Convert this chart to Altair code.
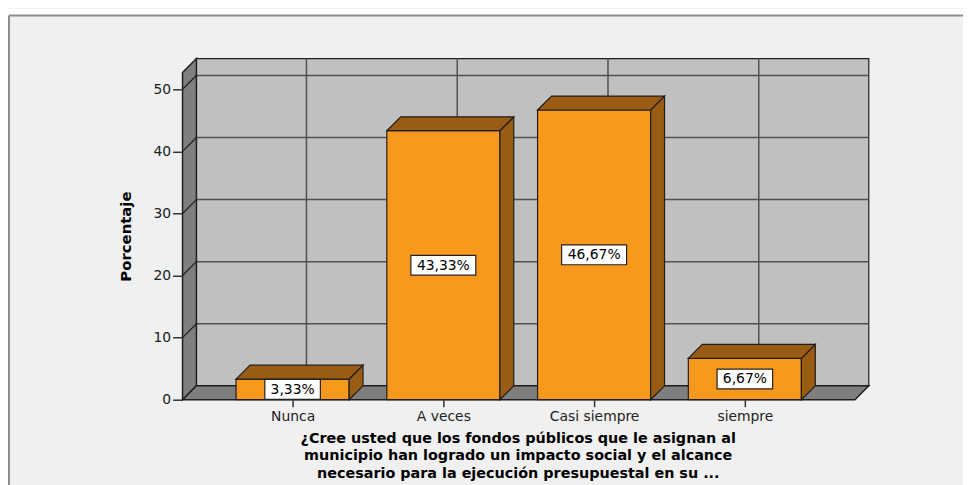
import altair as alt
import pandas as pd

# ---------------- data ----------------
categories = ["Nunca", "A veces", "Casi siempre", "siempre"]
percentages = [3.33, 43.33, 46.67, 6.67]
bar_labels = ["3,33%", "43,33%", "46,67%", "6,67%"]
y_ticks = [0, 10, 20, 30, 40, 50]
y_title = "Porcentaje"
x_title = [
    "¿Cree usted que los fondos públicos que le asignan al",
    "municipio han logrado un impacto social y el alcance",
    "necesario para la ejecución presupuestal en su ...",
]

# ---------------- 3D style / geometry ----------------
PX_X = 152.0          # px per category step
PX_Y = 6.26           # px per percentage point
DEPTH = 14            # px depth offset of the 3D effect
DX = DEPTH / PX_X
DY = DEPTH / PX_Y
X0, X1 = -0.73, 3.822  # x domain (front-left .. back-right)
Y1 = 54.95             # y domain top (back wall top)
BW = 0.75              # bar width (in category steps)
W = int(round((X1 - X0) * PX_X))
H = int(round(Y1 * PX_Y))

ORANGE = "#f8991d"
BROWN = "#9a5b12"
WALL_DARK = "#7f7f7f"
WALL_LIGHT = "#c0c0c0"
OUTLINE = "#1e1e1e"
GRID = "#505050"
FONT = "DejaVu Sans"

xs = alt.Scale(domain=[X0, X1], nice=False, zero=False)
ys = alt.Scale(domain=[0, Y1], nice=False, zero=False)

label_expr = "[" + ",".join("'" + c + "'" for c in categories) + "][datum.value]"
AX = alt.Axis(
    values=list(range(len(categories))), labelExpr=label_expr,
    title=x_title, domain=False, grid=False, zindex=1,
    tickSize=7, tickColor="#333333", tickWidth=1.5,
    labelFont=FONT, labelFontSize=14, labelColor="#222222", labelPadding=3,
    titleFont=FONT, titleFontSize=14.5, titleFontWeight="bold", titleColor="#000000",
    titleLineHeight=17.5, titleX=338, titleY=43, titleBaseline="alphabetic",
    titleAlign="center", titleAngle=0,
)
AY = alt.Axis(
    values=y_ticks, title=y_title, domain=False, grid=False, zindex=1,
    tickSize=10, tickColor="#333333", tickWidth=1.5,
    labelFont=FONT, labelFontSize=14, labelColor="#222222", labelPadding=2,
    titleFont=FONT, titleFontSize=15, titleFontWeight="bold", titleColor="#000000",
    titleX=-52, titleY=179, titleAngle=270, titleBaseline="alphabetic",
    titleAlign="center",
)


def qx(f):
    return alt.X(f, type="quantitative", scale=xs, axis=AX)


def qy(f):
    return alt.Y(f, type="quantitative", scale=ys, axis=AY)


one = pd.DataFrame({"a": [0]})
# ---------------- frame (border lines; chart background is the frame fill) ----------------
frame_top_white = alt.Chart(one).mark_rule(color="#ffffff", strokeWidth=6).encode(
    x=alt.value(-180), x2=alt.value(1000), y=alt.value(-47)
)
frame_left_white = alt.Chart(one).mark_rule(color="#ffffff", strokeWidth=2).encode(
    x=alt.value(-176), y=alt.value(-50), y2=alt.value(600)
)
frame_top = alt.Chart(one).mark_rule(color="#8c8c8c", strokeWidth=2).encode(
    x=alt.value(-175), x2=alt.value(1000), y=alt.value(-43.5)
)
frame_left = alt.Chart(one).mark_rule(color="#8c8c8c", strokeWidth=2).encode(
    x=alt.value(-175), y=alt.value(-43.5), y2=alt.value(600)
)

# ---------------- back wall ----------------
back_df = pd.DataFrame({"x": [X0 + DX], "x2": [X1], "y": [DY], "y2": [Y1]})
back = alt.Chart(back_df).mark_rect(
    fill=WALL_LIGHT, stroke=OUTLINE, strokeWidth=1.2
).encode(x=qx("x"), x2="x2", y=qy("y"), y2="y2")

# back-wall gridlines
gh_df = pd.DataFrame({"y": [t + DY for t in y_ticks[1:]], "x": X0 + DX, "x2": X1})
grid_h = alt.Chart(gh_df).mark_rule(color=GRID, strokeWidth=1.5).encode(
    x=qx("x"), x2="x2", y=qy("y")
)
gv_df = pd.DataFrame({"x": [i + DX for i in range(len(categories))], "y": DY, "y2": Y1})
grid_v = alt.Chart(gv_df).mark_rule(color=GRID, strokeWidth=1.5).encode(
    x=qx("x"), y=qy("y"), y2="y2"
)

# left wall
lw_df = pd.DataFrame({"x": [X0, X0 + DX], "lo": [0, DY], "hi": [Y1 - DY, Y1]})
left_wall = alt.Chart(lw_df).mark_area(
    orient="vertical", fill=WALL_DARK, stroke=OUTLINE, strokeWidth=1.5
).encode(x=qx("x"), y=qy("lo"), y2="hi")

ld_df = pd.DataFrame({"y": y_ticks[1:], "y2": [t + DY for t in y_ticks[1:]], "x": X0, "x2": X0 + DX})
left_diag = alt.Chart(ld_df).mark_rule(color="#222222", strokeWidth=1.3).encode(
    x=qx("x"), x2="x2", y=qy("y"), y2="y2"
)

# floor
fl_df = pd.DataFrame({"y": [0, DY], "lo": [X0, X0 + DX], "hi": [X1 - DX, X1]})
floor = alt.Chart(fl_df).mark_area(
    orient="horizontal", fill=WALL_DARK, stroke=OUTLINE, strokeWidth=1.5
).encode(y=qy("y"), x=qx("lo"), x2="hi")

# ---------------- bars ----------------
front_df = pd.DataFrame({
    "cat": categories,
    "l": [i - BW / 2 for i in range(len(categories))],
    "r": [i + BW / 2 for i in range(len(categories))],
    "v": percentages,
    "z": 0.0,
})
front = alt.Chart(front_df).mark_rect(
    fill=ORANGE, stroke=OUTLINE, strokeWidth=1.2
).encode(x=qx("l"), x2="r", y=qy("z"), y2="v")

side_rows, top_rows = [], []
for i, (c, v) in enumerate(zip(categories, percentages)):
    r = i + BW / 2
    l = i - BW / 2
    side_rows += [{"cat": c, "x": r, "lo": 0, "hi": v},
                  {"cat": c, "x": r + DX, "lo": DY, "hi": v + DY}]
    top_rows += [{"cat": c, "y": v, "lo": l, "hi": r},
                 {"cat": c, "y": v + DY, "lo": l + DX, "hi": r + DX}]

side = alt.Chart(pd.DataFrame(side_rows)).mark_area(
    orient="vertical", fill=BROWN, stroke=OUTLINE, strokeWidth=1.2
).encode(x=qx("x"), y=qy("lo"), y2="hi", detail="cat:N")
top = alt.Chart(pd.DataFrame(top_rows)).mark_area(
    orient="horizontal", fill=BROWN, stroke=OUTLINE, strokeWidth=1.2
).encode(y=qy("y"), x=qx("lo"), x2="hi", detail="cat:N")

# ---------------- value labels ----------------
box_rows = []
for i, (v, t) in enumerate(zip(percentages, bar_labels)):
    hw = (len(t) * 9.5 + 8.5) / 2 / PX_X
    hh = 10 / PX_Y
    box_rows.append({"x": i - hw, "x2": i + hw, "y": v / 2 - hh, "y2": v / 2 + hh,
                     "xc": i, "yc": v / 2, "t": t})
box_df = pd.DataFrame(box_rows)
boxes = alt.Chart(box_df).mark_rect(
    fill="#ffffff", stroke="#222222", strokeWidth=1.2
).encode(x=qx("x"), x2="x2", y=qy("y"), y2="y2")
texts = alt.Chart(box_df).mark_text(
    font=FONT, fontSize=14, color="#000000", align="center", baseline="middle", dy=0.5
).encode(x=qx("xc"), y=qy("yc"), text="t:N")

chart = alt.layer(
    back, grid_h, grid_v, left_wall, left_diag, floor,
    front, side, top, boxes, texts,
    frame_top_white, frame_left_white, frame_top, frame_left,
).properties(
    width=W, height=H,
    autosize=alt.AutoSizeParams(type="none"),
    padding={"left": 176, "top": 49, "right": 963 - 176 - W, "bottom": 477 - 49 - H},
    background="#f0f0f0",
).configure_view(stroke=None)

chart.save("out.html", embed_options={"renderer": "svg", "actions": False})
